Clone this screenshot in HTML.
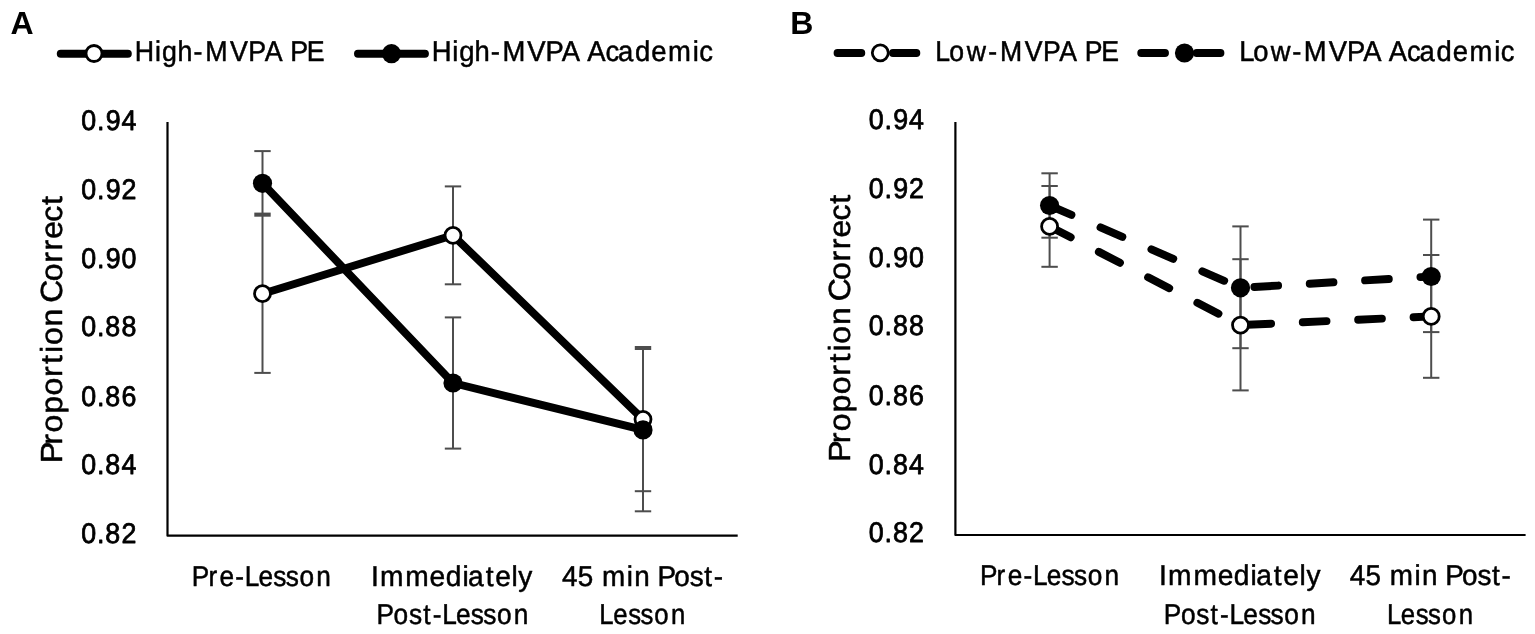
<!DOCTYPE html>
<html lang="en">
<head>
<meta charset="utf-8">
<title>Proportion correct by lesson time point: High-MVPA and Low-MVPA groups</title>
<style>
html,body{margin:0;padding:0;background:#fff;width:1535px;height:634px}
svg{display:block}
text{font-family:'Liberation Sans', sans-serif;fill:#000;stroke-linejoin:round;font-kerning:none;font-variant-ligatures:none;text-rendering:geometricPrecision;white-space:pre}
</style>
</head>
<body>
<svg width="1535" height="634" viewBox="0 0 1535 634">
<rect width="1535" height="634" fill="#fff"/>
<g transform="translate(0,0)">
<text x="10.6" y="34.4" font-size="32" font-weight="bold">A</text>
<path d="M167.5 122.1V535.7H737.7" fill="none" stroke="#000" stroke-width="2.2" stroke-linejoin="round"/>
<text transform="translate(0,130.2) scale(0.94,1)" x="86.5 103.2 112.6 129.3" y="0" font-size="28.5" stroke="#000" stroke-width="0.8">0.94</text>
<text transform="translate(0,198.53) scale(0.94,1)" x="86.5 103.2 112.6 129.3" y="0" font-size="28.5" stroke="#000" stroke-width="0.8">0.92</text>
<text transform="translate(0,268.06) scale(0.94,1)" x="86.5 103.2 112.6 129.2" y="0" font-size="28.5" stroke="#000" stroke-width="0.8">0.90</text>
<text transform="translate(0,336.29) scale(0.94,1)" x="86.5 103.2 112.1 129.2" y="0" font-size="28.5" stroke="#000" stroke-width="0.8">0.88</text>
<text transform="translate(0,405.52) scale(0.94,1)" x="86.5 103.2 112.1 129.3" y="0" font-size="28.5" stroke="#000" stroke-width="0.8">0.86</text>
<text transform="translate(0,473.85) scale(0.94,1)" x="86.5 103.2 112.1 129.3" y="0" font-size="28.5" stroke="#000" stroke-width="0.8">0.84</text>
<text transform="translate(0,543.18) scale(0.94,1)" x="86.5 103.2 112.1 129.3" y="0" font-size="28.5" stroke="#000" stroke-width="0.8">0.82</text>
<text transform="translate(61.9,460.9) rotate(-90) translate(0,0) scale(1.0475,1)" x="-2.1 15.5 27.1 45 62.4 80.1 92.6 103.1 110.7 128.4 145.4 151.1 171.4 189.1 200.8 212 228.2 244.2" y="0" font-size="30.5" stroke="#000" stroke-width="0.5">Proportion Correct</text>
<text transform="translate(0,585.65) scale(0.9169,1)" x="209.2 227.3 239.5 256.5 266.8 281.8 298.1 311.6 326.6 344.9" y="0" font-size="28.6" stroke="#000" stroke-width="0.5">Pre-Lesson</text>
<text transform="translate(0,585.65) scale(0.9847,1)" x="376.7 385.8 411.6 436.3 452.6 469.7 475.4 493.3 502.9 519.4 526.4" y="0" font-size="28.6" stroke="#000" stroke-width="0.5">Immediately</text>
<text transform="translate(0,624.35) scale(0.9184,1)" x="409.9 428.5 445.3 460.8 471.2 481.5 496.5 512.7 526.2 541.2 559.5" y="0" font-size="28.6" stroke="#000" stroke-width="0.5">Post-Lesson</text>
<text transform="translate(0,585.65) scale(0.9739,1)" x="577 593.2 609.1 618.2 643.5 651.2 667.1 675.2 692.4 708.3 723.1 732.9" y="0" font-size="28.6" stroke="#000" stroke-width="0.5">45 min Post-</text>
<text transform="translate(0,624.35) scale(0.8997,1)" x="666.2 681.6 698.2 712 727.3 745.9" y="0" font-size="28.6" stroke="#000" stroke-width="0.5">Lesson</text>
<line x1="262.5" y1="213.6" x2="262.5" y2="372.9" stroke="#4d4d4d" stroke-width="2.0"/>
<line x1="453" y1="186.4" x2="453" y2="284.3" stroke="#4d4d4d" stroke-width="2.0"/>
<line x1="643" y1="347" x2="643" y2="491.2" stroke="#4d4d4d" stroke-width="2.0"/>
<line x1="262.5" y1="151.1" x2="262.5" y2="215.7" stroke="#4d4d4d" stroke-width="2.0"/>
<line x1="453" y1="317.4" x2="453" y2="448.6" stroke="#4d4d4d" stroke-width="2.0"/>
<line x1="643" y1="349" x2="643" y2="511.3" stroke="#4d4d4d" stroke-width="2.0"/>
<rect x="254.3" y="150.1" width="16.4" height="2" fill="#4d4d4d"/>
<rect x="254.3" y="212.6" width="16.4" height="4.1" fill="#4d4d4d"/>
<rect x="254.3" y="371.9" width="16.4" height="2" fill="#4d4d4d"/>
<rect x="444.8" y="185.4" width="16.4" height="2" fill="#4d4d4d"/>
<rect x="444.8" y="283.3" width="16.4" height="2" fill="#4d4d4d"/>
<rect x="444.8" y="316.4" width="16.4" height="2" fill="#4d4d4d"/>
<rect x="444.8" y="447.6" width="16.4" height="2" fill="#4d4d4d"/>
<rect x="634.8" y="346" width="16.4" height="4" fill="#4d4d4d"/>
<rect x="634.8" y="490.2" width="16.4" height="2" fill="#4d4d4d"/>
<rect x="634.8" y="510.3" width="16.4" height="2" fill="#4d4d4d"/>
<polyline points="262.5,293.7 453,235.3 643,419.3" fill="none" stroke="#000" stroke-width="7.9" stroke-linecap="round" stroke-linejoin="round"/>
<circle cx="262.5" cy="293.7" r="8.0" fill="#fff" stroke="#000" stroke-width="2.8"/>
<circle cx="453" cy="235.3" r="8.0" fill="#fff" stroke="#000" stroke-width="2.8"/>
<circle cx="643" cy="419.3" r="8.0" fill="#fff" stroke="#000" stroke-width="2.8"/>
<polyline points="262.5,183.3 453,383 643,429.9" fill="none" stroke="#000" stroke-width="7.9" stroke-linecap="round" stroke-linejoin="round"/>
<circle cx="262.5" cy="183.3" r="9.6" fill="#000"/>
<circle cx="453" cy="383" r="9.6" fill="#000"/>
<circle cx="643" cy="429.9" r="9.6" fill="#000"/>
<line x1="60.75" y1="53.7" x2="127.85" y2="53.7" stroke="#000" stroke-width="7.9" stroke-linecap="round"/>
<circle cx="94" cy="53.5" r="8.0" fill="#fff" stroke="#000" stroke-width="2.8"/>
<text transform="translate(0,61.2) scale(0.9361,1)" x="144 165.6 173.2 189.6 206.8 219.4 245.8 265.3 282.8 301.9 310.1 327.6" y="0" font-size="28.6" stroke="#000" stroke-width="0.5">High-MVPA PE</text>
<line x1="357.95" y1="53.7" x2="424.95" y2="53.7" stroke="#000" stroke-width="7.9" stroke-linecap="round"/>
<circle cx="391.5" cy="53.7" r="9.6" fill="#000"/>
<text transform="translate(0,61.2) scale(0.9604,1)" x="449.6 470.9 478.2 494.2 511.1 523.1 549 568.1 585 604 611.6 630.5 643.6 661.2 678.1 695.6 721.2 728.1" y="0" font-size="28.6" stroke="#000" stroke-width="0.5">High-MVPA Academic</text>
</g>
<g transform="translate(787.8,-0.7)">
<text x="2.4" y="34.4" font-size="32" font-weight="bold">B</text>
<path d="M167.6 122.6V535.7H737.8" fill="none" stroke="#000" stroke-width="2.2" stroke-linejoin="round"/>
<text transform="translate(0,129.8) scale(0.94,1)" x="86.2 102.9 112.3 129" y="0" font-size="28.5" stroke="#000" stroke-width="0.8">0.94</text>
<text transform="translate(0,198.58) scale(0.94,1)" x="86.2 102.9 112.3 128.9" y="0" font-size="28.5" stroke="#000" stroke-width="0.8">0.92</text>
<text transform="translate(0,267.76) scale(0.94,1)" x="86.2 102.9 112.3 128.9" y="0" font-size="28.5" stroke="#000" stroke-width="0.8">0.90</text>
<text transform="translate(0,335.79) scale(0.94,1)" x="86.2 102.9 111.8 128.9" y="0" font-size="28.5" stroke="#000" stroke-width="0.8">0.88</text>
<text transform="translate(0,405.27) scale(0.94,1)" x="86.2 102.9 111.8 129" y="0" font-size="28.5" stroke="#000" stroke-width="0.8">0.86</text>
<text transform="translate(0,474.25) scale(0.94,1)" x="86.2 102.9 111.8 129" y="0" font-size="28.5" stroke="#000" stroke-width="0.8">0.84</text>
<text transform="translate(0,542.98) scale(0.94,1)" x="86.2 102.9 111.8 128.9" y="0" font-size="28.5" stroke="#000" stroke-width="0.8">0.82</text>
<text transform="translate(62,460.3) rotate(-90) translate(0,0) scale(1.0475,1)" x="-2.1 15.5 27.1 45 62.4 80.1 92.6 103.1 110.7 128.4 145.4 151.1 171.4 189.1 200.8 212 228.2 244.2" y="0" font-size="30.5" stroke="#000" stroke-width="0.5">Proportion Correct</text>
<text transform="translate(0,585.65) scale(0.9169,1)" x="209.7 227.7 239.9 257 267.3 282.3 298.5 312.1 327 345.4" y="0" font-size="28.6" stroke="#000" stroke-width="0.5">Pre-Lesson</text>
<text transform="translate(0,585.65) scale(0.9847,1)" x="377 386.1 411.9 436.6 452.9 470 475.7 493.6 503.2 519.7 526.7" y="0" font-size="28.6" stroke="#000" stroke-width="0.5">Immediately</text>
<text transform="translate(0,624.35) scale(0.9184,1)" x="409.4 428 444.8 460.3 470.7 481 495.9 512.2 525.7 540.6 558.9" y="0" font-size="28.6" stroke="#000" stroke-width="0.5">Post-Lesson</text>
<text transform="translate(0,585.65) scale(0.9739,1)" x="576.9 593.1 609.1 618.1 643.5 651.1 667 675.1 692.4 708.3 723 732.8" y="0" font-size="28.6" stroke="#000" stroke-width="0.5">45 min Post-</text>
<text transform="translate(0,624.35) scale(0.8997,1)" x="666 681.4 697.9 711.7 727 745.7" y="0" font-size="28.6" stroke="#000" stroke-width="0.5">Lesson</text>
<line x1="261.8" y1="186.7" x2="261.8" y2="267.5" stroke="#4d4d4d" stroke-width="2.0"/>
<line x1="452.7" y1="259.9" x2="452.7" y2="391.1" stroke="#4d4d4d" stroke-width="2.0"/>
<line x1="643.4" y1="255.7" x2="643.4" y2="378.5" stroke="#4d4d4d" stroke-width="2.0"/>
<line x1="261.8" y1="174" x2="261.8" y2="238.4" stroke="#4d4d4d" stroke-width="2.0"/>
<line x1="452.7" y1="227.1" x2="452.7" y2="348.9" stroke="#4d4d4d" stroke-width="2.0"/>
<line x1="643.4" y1="220.3" x2="643.4" y2="332.8" stroke="#4d4d4d" stroke-width="2.0"/>
<rect x="253.6" y="173" width="16.4" height="2" fill="#4d4d4d"/>
<rect x="253.6" y="185.7" width="16.4" height="2" fill="#4d4d4d"/>
<rect x="253.6" y="237.4" width="16.4" height="2" fill="#4d4d4d"/>
<rect x="253.6" y="266.5" width="16.4" height="2" fill="#4d4d4d"/>
<rect x="444.5" y="226.1" width="16.4" height="2" fill="#4d4d4d"/>
<rect x="444.5" y="258.9" width="16.4" height="2" fill="#4d4d4d"/>
<rect x="444.5" y="347.9" width="16.4" height="2" fill="#4d4d4d"/>
<rect x="444.5" y="390.1" width="16.4" height="2" fill="#4d4d4d"/>
<rect x="635.2" y="219.3" width="16.4" height="2" fill="#4d4d4d"/>
<rect x="635.2" y="254.7" width="16.4" height="2" fill="#4d4d4d"/>
<rect x="635.2" y="331.8" width="16.4" height="2" fill="#4d4d4d"/>
<rect x="635.2" y="377.5" width="16.4" height="2" fill="#4d4d4d"/>
<polyline points="261.8,227.1 452.7,325.8 643.4,317.1" fill="none" stroke="#000" stroke-width="7.9" stroke-linecap="round" stroke-linejoin="round" stroke-dasharray="23.75 31.7"/>
<circle cx="261.8" cy="227.1" r="8.0" fill="#fff" stroke="#000" stroke-width="2.8"/>
<circle cx="452.7" cy="325.8" r="8.0" fill="#fff" stroke="#000" stroke-width="2.8"/>
<circle cx="643.4" cy="317.1" r="8.0" fill="#fff" stroke="#000" stroke-width="2.8"/>
<polyline points="261.8,206.2 452.7,288.5 643.4,277.2" fill="none" stroke="#000" stroke-width="7.9" stroke-linecap="round" stroke-linejoin="round" stroke-dasharray="23.75 31.7"/>
<circle cx="261.8" cy="206.2" r="9.6" fill="#000"/>
<circle cx="452.7" cy="288.5" r="9.6" fill="#000"/>
<circle cx="643.4" cy="277.2" r="9.6" fill="#000"/>
<line x1="49.75" y1="53.7" x2="128.55" y2="53.7" stroke="#000" stroke-width="7.9" stroke-linecap="round" stroke-dasharray="23.75 31.7"/>
<circle cx="92.5" cy="53.5" r="8.0" fill="#fff" stroke="#000" stroke-width="2.8"/>
<text transform="translate(0,61.2) scale(0.9311,1)" x="158.3 173.5 192.2 215.2 227.8 254.5 274 291.6 310.7 319 336.6" y="0" font-size="28.6" stroke="#000" stroke-width="0.5">Low-MVPA PE</text>
<line x1="353.45" y1="53.7" x2="432.65" y2="53.7" stroke="#000" stroke-width="7.9" stroke-linecap="round" stroke-dasharray="23.75 31.7"/>
<circle cx="396.7" cy="53.7" r="9.6" fill="#000"/>
<text transform="translate(0,61.2) scale(0.9567,1)" x="472 486.6 504.8 527.3 539.4 565.4 584.6 601.5 620.6 628.2 647.2 660.4 678 695 712.6 738.3 745.1" y="0" font-size="28.6" stroke="#000" stroke-width="0.5">Low-MVPA Academic</text>
</g>
</svg>
</body>
</html>
